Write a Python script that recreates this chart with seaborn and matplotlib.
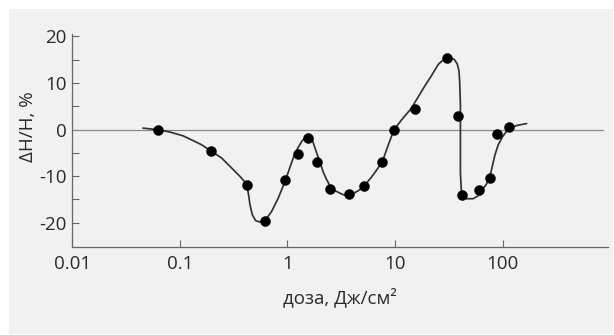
import matplotlib
matplotlib.use("Agg")
import matplotlib.pyplot as plt
import matplotlib.patches as mpatches
from matplotlib.ticker import FixedLocator, NullFormatter, FixedFormatter
import seaborn as sns
import pandas as pd

# measured points: dose (J/cm^2) and relative change dH/H (%)
dose = [0.063, 0.193, 0.418, 0.618, 0.948, 1.26, 1.56, 1.89, 2.48, 3.73, 5.14,
        7.60, 9.81, 15.2, 30.2, 38.4, 41.6, 60.6, 76.2, 87.9, 115.2]
dh = [0.0, -4.6, -11.8, -19.7, -10.9, -5.3, -1.8, -7.0, -12.8, -13.9, -12.2,
      -7.0, 0.0, 4.4, 15.3, 2.8, -14.0, -12.9, -10.4, -0.9, 0.5]

# hand-drawn trend curve
curve_dose = [0.0454, 0.063, 0.0809, 0.1069, 0.138, 0.1594, 0.193, 0.2446, 0.3030, 0.3619,
              0.4177, 0.4322, 0.4482, 0.4708, 0.5063, 0.5551, 0.618, 0.7130, 0.8213, 0.948,
              1.055, 1.174, 1.355, 1.508, 1.678, 1.868, 2.005, 2.151, 2.314, 2.483,
              2.763, 3.301, 3.809, 4.550, 5.14, 6.272, 7.60, 8.59, 9.77, 11.59,
              14.05, 16.32, 18.56, 21.88, 25.20, 27.29, 29.72, 32.37, 35.50, 37.84,
              39.26, 39.85, 40.5, 40.5, 41.59, 46.28, 53.32, 59.33, 63.80, 71.02,
              76.21, 80.07, 84.82, 91.01, 100.0, 112.7, 134.9, 167.1]
curve_dh = [0.30, -0.06, -0.54, -1.35, -2.57, -3.28, -4.56, -6.12, -8.27, -10.06,
            -11.69, -13.62, -16.12, -18.27, -19.55, -19.83, -19.55, -17.56, -14.69, -11.16,
            -8.09, -5.05, -2.57, -1.35, -1.84, -5.05, -6.98, -9.16, -10.77, -12.06,
            -13.13, -13.98, -14.09, -13.13, -12.21, -9.70, -6.98, -3.49, -0.06, 2.18,
            4.43, 6.90, 9.04, 11.61, 13.96, 14.71, 15.14, 15.40, 15.03, 14.07,
            12.57, 10.28, 5.29, -9.34, -14.48, -14.84, -14.84, -14.20, -13.13, -11.63,
            -10.06, -7.92, -5.42, -3.28, -1.50, 0.09, 0.86, 1.28]

x_ticks = [0.01, 0.1, 1, 10, 100]
x_tick_labels = ["0.01", "0.1", "1", "10", "100"]
y_ticks = [-20, -10, 0, 10, 20]
y_minor_ticks = [-15, -5, 5, 15]

sns.set_style("ticks")
plt.rcParams["font.family"] = ["Open Sans", "DejaVu Sans"]
plt.rcParams["axes.unicode_minus"] = False

W, H = 614, 335
fig = plt.figure(figsize=(W / 100, H / 100), dpi=100, facecolor="white")
# light grey panel
fig.patches.append(mpatches.Rectangle((9 / W, 1.5 / H), 604 / W, 324.5 / H,
                                      transform=fig.transFigure, facecolor="#f1f1f1",
                                      edgecolor="none", zorder=-10))

ax = fig.add_axes([72.3 / W, (H - 247) / H, (608 - 72.3) / W, (247 - 34.4) / H])
ax.set_facecolor("none")
ax.set_zorder(1)

ax.axhline(0, xmin=0, xmax=0.99, color="#8a8a8a", lw=0.9, zorder=1)

curve_df = pd.DataFrame({"dose": curve_dose, "dh": curve_dh})
sns.lineplot(data=curve_df, x="dose", y="dh", estimator=None, sort=False,
             color="#333333", lw=1.25, ax=ax, zorder=2)
for ln in ax.get_lines():
    ln.set_solid_joinstyle("round")

pts_df = pd.DataFrame({"dose": dose, "dh": dh})
sns.scatterplot(data=pts_df, x="dose", y="dh", color="black", s=52,
                edgecolor="black", linewidth=0.3, ax=ax, zorder=3)

ax.set_xscale("log")
ax.set_xlim(0.01, 953)
ax.set_ylim(-25.2, 20.4)

ax.xaxis.set_major_locator(FixedLocator(x_ticks))
ax.xaxis.set_major_formatter(FixedFormatter(x_tick_labels))
ax.xaxis.set_minor_locator(FixedLocator([]))
ax.yaxis.set_major_locator(FixedLocator(y_ticks))
ax.yaxis.set_minor_locator(FixedLocator(y_minor_ticks))
ax.yaxis.set_minor_formatter(NullFormatter())

for side in ["top", "right"]:
    ax.spines[side].set_visible(False)
for side in ["left", "bottom"]:
    ax.spines[side].set_color("#666666")
    ax.spines[side].set_linewidth(0.9)

ax.tick_params(axis="both", which="both", direction="in", length=5, width=0.8,
               color="#666666", labelsize=13.5, labelcolor="#2a2a2a")
ax.tick_params(axis="x", pad=6)
ax.tick_params(axis="y", pad=4)

ax.set_xlabel("доза, Дж/см²", fontsize=13.5, color="#2a2a2a", labelpad=10)
ax.set_ylabel("ΔH/H, %", fontsize=13.5, color="#2a2a2a")
ax.yaxis.set_label_coords(-0.066, 0.567)

fig.savefig("out.png", dpi=100, facecolor="white")
